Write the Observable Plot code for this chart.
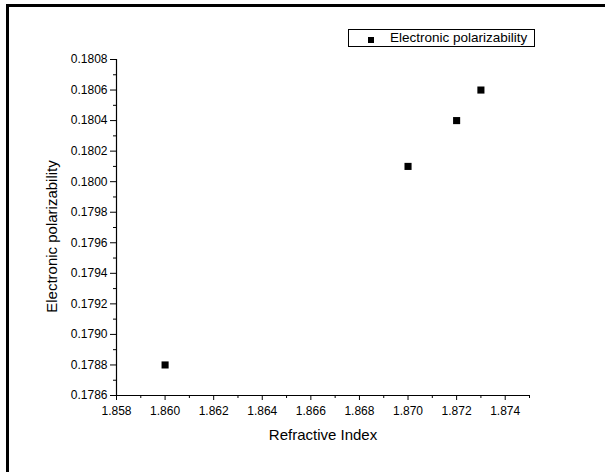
<!DOCTYPE html>
<html>
<head>
<meta charset="utf-8">
<script src="https://cdn.jsdelivr.net/npm/d3@7"></script>
<script src="https://cdn.jsdelivr.net/npm/@observablehq/plot@0.6"></script>
<style>
  html, body { margin: 0; padding: 0; background: #fff; }
  #wrap { position: relative; width: 605px; height: 472px; overflow: hidden; font-family: "Liberation Sans", Arial, sans-serif; }
  #frame { position: absolute; left: 6px; top: 4px; width: 700px; height: 600px; border-top: 3px solid #000; border-left: 3px solid #000; box-sizing: border-box; pointer-events: none; }
  #legend { position: absolute; left: 348px; top: 29px; width: 187px; height: 18px; border: 1px solid #000; box-sizing: border-box; background: #fff; font-size: 13.5px; color: #000; }
  #legend .sw { position: absolute; left: 19px; top: 7px; width: 6px; height: 6px; background: #000; }
  #legend .lb { position: absolute; left: 41px; top: 0px; line-height: 16px; white-space: nowrap; }
  svg { position: absolute; left: 0; top: 0; }
</style>
</head>
<body>
<div id="wrap"><div id="frame"></div></div>
<script>
const seriesName = "Electronic polarizability";
const xLabel = "Refractive Index";
const yLabel = "Electronic polarizability";
const refractiveIndex = [1.860, 1.870, 1.872, 1.873];
const polarizability = [0.1788, 0.1801, 0.1804, 0.1806];
const xDomain = [1.858, 1.875];
const yDomain = [0.1786, 0.1808];
const xMajorTicks = [1.858, 1.860, 1.862, 1.864, 1.866, 1.868, 1.870, 1.872, 1.874];
const xMinorTicks = [1.859, 1.861, 1.863, 1.865, 1.867, 1.869, 1.871, 1.873, 1.875];
const yMajorTicks = [0.1786, 0.1788, 0.1790, 0.1792, 0.1794, 0.1796, 0.1798, 0.1800, 0.1802, 0.1804, 0.1806, 0.1808];
const yMinorTicks = [0.1787, 0.1789, 0.1791, 0.1793, 0.1795, 0.1797, 0.1799, 0.1801, 0.1803, 0.1805, 0.1807];

const data = refractiveIndex.map((x, i) => ({x, y: polarizability[i]}));

const chart = Plot.plot({
  width: 605,
  height: 472,
  marginLeft: 116,
  marginRight: 76,
  marginTop: 59,
  marginBottom: 77,
  style: {fontFamily: "'Liberation Sans', Arial, sans-serif", fontSize: "12px", color: "#000", background: "transparent", overflow: "visible"},
  x: {domain: xDomain},
  y: {domain: yDomain},
  marks: [
    Plot.axisX({ticks: xMinorTicks, tickSize: 3, tickFormat: () => "", label: null, stroke: "#000"}),
    Plot.axisY({ticks: yMinorTicks, tickSize: 3, tickFormat: () => "", label: null, stroke: "#000"}),
    Plot.axisX({ticks: xMajorTicks, tickSize: 5, tickPadding: 6, tickFormat: d3.format(".3f"), label: null, stroke: "#000", fill: "#000"}),
    Plot.axisY({ticks: yMajorTicks, tickSize: 6, tickPadding: 3, tickFormat: d3.format(".4f"), label: null, stroke: "#000", fill: "#000"}),
    Plot.ruleY([yDomain[0]], {x1: xDomain[0], x2: xDomain[1], stroke: "#000", strokeWidth: 1.2}),
    Plot.ruleX([xDomain[0]], {y1: yDomain[0], y2: yDomain[1], stroke: "#000", strokeWidth: 1.2}),
    Plot.dot(data, {x: "x", y: "y", symbol: "square", r: 4, fill: "#000", stroke: null}),
    Plot.text([xLabel], {frameAnchor: "bottom", dy: 40, lineAnchor: "middle", textAnchor: "middle", fontSize: 15, fill: "#000"}),
    Plot.text([yLabel], {frameAnchor: "left", dx: -64, dy: 9, lineAnchor: "middle", textAnchor: "middle", rotate: -90, fontSize: 15, fill: "#000"})
  ]
});

const wrap = document.getElementById("wrap");
wrap.insertBefore(chart, wrap.firstChild);

const legend = document.createElement("div");
legend.id = "legend";
legend.innerHTML = `<div class="sw"></div><div class="lb"></div>`;
legend.querySelector(".lb").textContent = seriesName;
wrap.appendChild(legend);
</script>
</body>
</html>
